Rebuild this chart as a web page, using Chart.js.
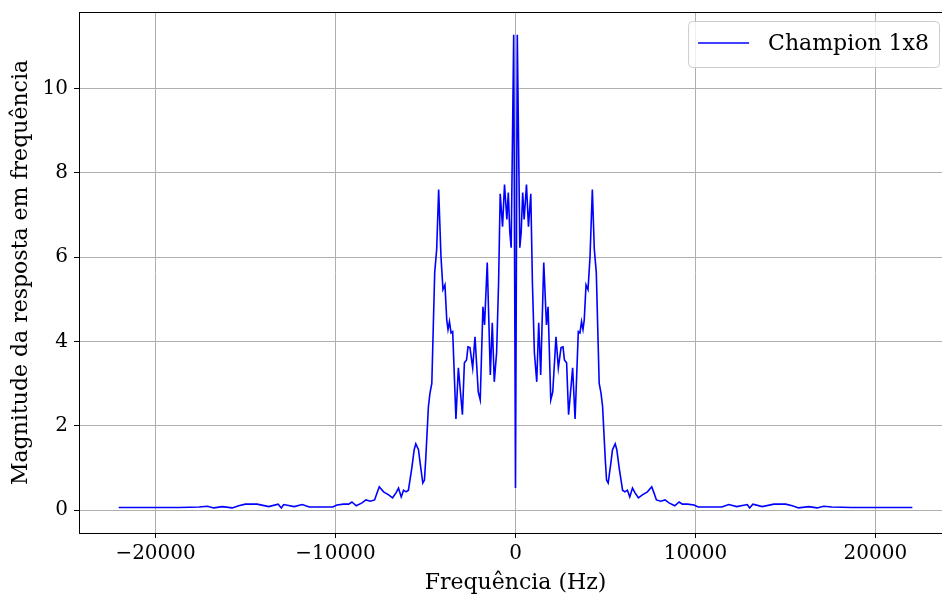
<!DOCTYPE html>
<html>
<head>
<meta charset="utf-8">
<script src="https://cdn.jsdelivr.net/npm/chart.js@4/dist/chart.umd.min.js"></script>
<style>
  html, body { margin: 0; padding: 0; background: #fff; overflow: hidden; }
  #wrap { width: 942px; height: 597px; overflow: hidden; }
</style>
</head>
<body>
<div id="wrap"><canvas id="myChart" width="952" height="597"></canvas></div>
<script>
// magnitude spectrum (negative and positive halves)
const freqNeg = [-22050, -20540, -18690, -17580, -17120, -16760, -16290, -15740, -15380, -15010,
    -14360, -13710, -13190, -13010, -12880, -12300, -11850, -11460, -10900, -10560,
    -10150, -9920, -9550, -9270, -9090, -8850, -8530, -8310, -8070, -7830,
    -7700, -7570, -7330, -7050, -6830, -6650, -6500, -6350, -6220, -6080,
    -5950, -5760, -5630, -5540, -5390, -5300, -5150, -5060, -4990, -4840,
    -4750, -4650, -4490, -4380, -4270, -4140, -4030, -3920, -3820, -3750,
    -3670, -3580, -3490, -3310, -3175, -2950, -2840, -2720, -2640, -2530,
    -2380, -2250, -2070, -1960, -1810, -1720, -1570, -1400, -1290, -1180,
    -1050, -940, -850, -720, -610, -480, -400, -315, -240, -100];
const magNeg = [0.06, 0.06, 0.06, 0.07, 0.09, 0.05, 0.08, 0.05, 0.10, 0.14,
    0.14, 0.08, 0.14, 0.05, 0.13, 0.08, 0.13, 0.07, 0.07, 0.07,
    0.07, 0.12, 0.14, 0.14, 0.19, 0.10, 0.17, 0.24, 0.21, 0.24,
    0.40, 0.55, 0.43, 0.36, 0.29, 0.40, 0.52, 0.31, 0.47, 0.43,
    0.47, 1.00, 1.43, 1.57, 1.43, 1.12, 0.64, 0.71, 1.19, 2.45,
    2.78, 3.00, 5.63, 6.18, 7.60, 6.00, 5.23, 5.34, 4.51, 4.28,
    4.47, 4.20, 4.23, 2.16, 3.37, 2.26, 3.49, 3.56, 3.87, 3.85,
    3.37, 4.11, 2.80, 2.61, 4.82, 4.39, 5.87, 3.20, 4.44, 3.04,
    3.73, 5.39, 7.50, 6.72, 7.72, 6.89, 7.53, 6.58, 6.22, 11.27];

const freqPos = [0, 100, 240, 315, 400, 480, 610, 720, 850, 940,
    1050, 1180, 1290, 1400, 1570, 1720, 1810, 1960, 2070, 2250,
    2380, 2530, 2640, 2720, 2840, 2950, 3175, 3310, 3490, 3580,
    3670, 3750, 3820, 3920, 4030, 4140, 4270, 4380, 4490, 4650,
    4750, 4840, 4990, 5060, 5150, 5300, 5390, 5540, 5630, 5760,
    5950, 6080, 6220, 6350, 6500, 6650, 6830, 7050, 7330, 7570,
    7700, 7830, 8070, 8310, 8530, 8850, 9090, 9270, 9550, 9920,
    10150, 10560, 10900, 11460, 11850, 12300, 12880, 13010, 13190, 13710,
    14360, 15010, 15380, 15740, 16290, 16760, 17120, 17580, 18690, 20540,
    22050];
const magPos = [0.52, 11.27, 6.22, 6.58, 7.53, 6.89, 7.72, 6.72, 7.50, 5.39,
    3.73, 3.04, 4.44, 3.20, 5.87, 4.39, 4.82, 2.61, 2.80, 4.11,
    3.37, 3.85, 3.87, 3.56, 3.49, 2.26, 3.37, 2.16, 4.23, 4.20,
    4.47, 4.28, 4.51, 5.34, 5.23, 6.00, 7.60, 6.18, 5.63, 3.00,
    2.78, 2.45, 1.19, 0.71, 0.64, 1.12, 1.43, 1.57, 1.43, 1.00,
    0.47, 0.43, 0.47, 0.31, 0.52, 0.40, 0.29, 0.36, 0.43, 0.55,
    0.40, 0.24, 0.21, 0.24, 0.17, 0.10, 0.19, 0.14, 0.14, 0.12,
    0.07, 0.07, 0.07, 0.07, 0.13, 0.08, 0.13, 0.05, 0.14, 0.08,
    0.14, 0.14, 0.10, 0.05, 0.08, 0.05, 0.09, 0.07, 0.06, 0.06,
    0.06];

const xTicks = [-20000, -10000, 0, 10000, 20000];
const yTicks = [0, 2, 4, 6, 8, 10];
const seriesLabel = 'Champion 1x8';

const FONT = "'DejaVu Serif', serif";

const freqs = freqNeg.concat(freqPos);
const mags = magNeg.concat(magPos);
const points = freqs.map((f, i) => ({ x: f, y: mags[i] }));

// spines on top (right one sits outside the visible window, like the cropped original)
const framePlugin = {
    id: 'frame',
    afterDraw(chart) {
        const { ctx, chartArea } = chart;
        ctx.save();
        ctx.strokeStyle = '#000';
        ctx.lineWidth = 1;
        ctx.beginPath();
        ctx.moveTo(chartArea.left, chartArea.top + 0.5);
        ctx.lineTo(chartArea.right, chartArea.top + 0.5);
        ctx.stroke();
        ctx.restore();
    }
};

// matplotlib-like legend box in the upper right corner
const legendPlugin = {
    id: 'mplLegend',
    afterDraw(chart) {
        const { ctx, chartArea } = chart;
        const ds = chart.data.datasets[0];
        ctx.save();
        ctx.font = '22px ' + FONT;
        const tw = ctx.measureText(ds.label).width;
        const w = 10 + 51 + 19 + tw + 10;
        const h = 46;
        const x = chartArea.right - 13 - w;
        const y = chartArea.top + 9;
        ctx.beginPath();
        ctx.roundRect(x + 0.5, y + 0.5, w, h, 4);
        ctx.fillStyle = 'rgba(255,255,255,0.8)';
        ctx.fill();
        ctx.strokeStyle = '#cccccc';
        ctx.lineWidth = 1;
        ctx.stroke();
        ctx.strokeStyle = ds.borderColor;
        ctx.lineWidth = ds.borderWidth;
        ctx.beginPath();
        ctx.moveTo(x + 10, y + 22);
        ctx.lineTo(x + 61, y + 22);
        ctx.stroke();
        ctx.fillStyle = '#000';
        ctx.textBaseline = 'middle';
        ctx.fillText(ds.label, x + 80, y + 23);
        ctx.restore();
    }
};

const ctx = document.getElementById('myChart').getContext('2d');
const myChart = new Chart(ctx, {
    type: 'line',
    data: {
        datasets: [{
            label: seriesLabel,
            data: points,
            borderColor: '#0000ff',
            borderWidth: 1.6,
            pointRadius: 0,
            tension: 0,
            fill: false
        }]
    },
    options: {
        responsive: false,
        animation: false,
        layout: { padding: { top: 12, right: 0, left: 0, bottom: 0 } },
        plugins: {
            legend: { display: false },
            tooltip: { enabled: false }
        },
        scales: {
            x: {
                type: 'linear',
                min: -24255,
                max: 24255,
                afterFit: (axis) => {
                    axis.height = 64;
                    axis.paddingLeft = 0;
                    axis.paddingRight = 0;
                },
                afterBuildTicks: (axis) => { axis.ticks = xTicks.map(v => ({ value: v })); },
                grid: { color: '#b0b0b0', lineWidth: 1, tickLength: 5, tickColor: '#000' },
                border: { color: '#000', width: 1 },
                ticks: {
                    color: '#000',
                    font: { family: FONT, size: 20 },
                    padding: 4,
                    maxRotation: 0,
                    callback: (v) => v < 0 ? '\u2212' + Math.abs(v) : String(v)
                },
                title: {
                    display: true,
                    text: 'Frequência (Hz)',
                    color: '#000',
                    font: { family: FONT, size: 22 },
                    padding: { top: 0, bottom: 1 }
                }
            },
            y: {
                type: 'linear',
                min: -0.545,
                max: 11.81,
                afterFit: (axis) => {
                    axis.width = 79;
                    axis.paddingTop = 0;
                    axis.paddingBottom = 0;
                },
                afterBuildTicks: (axis) => { axis.ticks = yTicks.map(v => ({ value: v })); },
                grid: { color: '#b0b0b0', lineWidth: 1, tickLength: 5, tickColor: '#000' },
                border: { color: '#000', width: 1 },
                ticks: {
                    color: '#000',
                    font: { family: FONT, size: 20 },
                    padding: 6,
                    callback: (v) => String(v)
                },
                title: {
                    display: true,
                    text: 'Magnitude da resposta em frequência',
                    color: '#000',
                    font: { family: FONT, size: 22 },
                    padding: { top: 8, bottom: 0 }
                }
            }
        }
    },
    plugins: [framePlugin, legendPlugin]
});
</script>
</body>
</html>
